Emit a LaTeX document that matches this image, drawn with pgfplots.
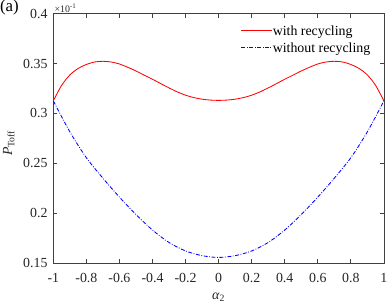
\documentclass[border=0pt]{standalone}
\usepackage{amsmath}
\usepackage{fontspec}
\setmainfont{Liberation Serif}
\usepackage{pgfplots}
\pgfplotsset{compat=1.18}
\newcommand{\dd}{\rule[-0.4pt]{4pt}{0.85pt}\kern1.6pt\rule[-0.4pt]{0.8pt}{0.85pt}\kern1.6pt}
\begin{document}
\fontsize{14}{16}\selectfont
\begin{tikzpicture}
\begin{axis}[
  scale only axis,
  width=333.5pt, height=251.5pt,
  xmin=-1, xmax=1, ymin=0.15, ymax=0.4,
  xtick={-1,-0.8,-0.6,-0.4,-0.2,0,0.2,0.4,0.6,0.8,1},
  xticklabels={-1,-0.8,-0.6,-0.4,-0.2,0,0.2,0.4,0.6,0.8,1},
  ytick={0.15,0.2,0.25,0.3,0.35,0.4},
  yticklabels={0.15,0.2,0.25,0.3,0.35,0.4},
  tick align=inside,
  major tick length=4pt,
  axis line style={black!75, line width=0.8pt},
  every tick/.append style={black!75, line width=0.8pt},
  tick label style={font=\fontsize{14}{16}\selectfont, text=black!85},
  xticklabel style={yshift=-6pt},
  yticklabel style={xshift=-1pt},
  xlabel={\textit{α}\textsubscript{2}},
  ylabel={$\textit{P}_{\text{Toff}}$},
  label style={font=\fontsize{14}{16}\selectfont, text=black!85},
  ylabel style={at={(rel axis cs:-0.135,0.48)}, anchor=center, inner sep=0pt},
  legend style={draw=white, fill=white, at={(rel axis cs:0.9625,0.957)}, anchor=north east,
    font=\fontsize{14}{16}\selectfont, row sep=3.5pt, inner sep=0pt, nodes={inner sep=1pt}},
  legend cell align=left,
  clip=false,
]
\addplot[color=red, line width=0.85pt, smooth,
  legend image code/.code={\node[inner sep=0pt, anchor=west] at (0pt,0pt) {\textcolor{red}{\rule[-0.4pt]{31pt}{0.85pt}}};}] coordinates {
(-1,0.3125) (-0.95,0.328) (-0.9,0.3385) (-0.85,0.345) (-0.8,0.349) (-0.75,0.3515)
(-0.7,0.3522) (-0.65,0.3515) (-0.6,0.3495) (-0.55,0.3462) (-0.5,0.3425) (-0.45,0.3383)
(-0.4,0.3342) (-0.35,0.3298) (-0.3,0.3255) (-0.25,0.3215) (-0.2,0.3182) (-0.15,0.3158)
(-0.1,0.3142) (-0.05,0.3133) (0,0.3130)
(0.05,0.3133) (0.1,0.3142) (0.15,0.3158) (0.2,0.3182) (0.25,0.3215) (0.3,0.3255)
(0.35,0.3298) (0.4,0.3342) (0.45,0.3383) (0.5,0.3425) (0.55,0.3462) (0.6,0.3495)
(0.65,0.3515) (0.7,0.3522) (0.75,0.3515) (0.8,0.349) (0.85,0.345) (0.9,0.3385)
(0.95,0.328) (1,0.3125)
};
\addlegendentry{with recycling}
\addplot[color=blue, line width=0.85pt, smooth, dash pattern=on 4pt off 1.6pt on 0.8pt off 1.6pt,
  legend image code/.code={\node[inner sep=0pt, anchor=west] at (0pt,0pt) {\textcolor{blue}{\dd\dd\dd\rule[-0.4pt]{4pt}{0.85pt}\kern1.6pt\rule[-0.4pt]{0.8pt}{0.85pt}}};}] coordinates {
(-1,0.3125) (-0.9,0.2815) (-0.8,0.2555) (-0.7,0.2350) (-0.6,0.2160) (-0.5,0.1985)
(-0.4,0.1830) (-0.3,0.1705) (-0.2,0.1620) (-0.1,0.1573) (0,0.1555)
(0.1,0.1573) (0.2,0.1620) (0.3,0.1705) (0.4,0.1830) (0.5,0.1985) (0.6,0.2160)
(0.7,0.2350) (0.8,0.2555) (0.9,0.2815) (1,0.3125)
};
\addlegendentry{without recycling}
\node[anchor=south west, font=\fontsize{10}{12}\selectfont, text=black!85, inner sep=1pt] at (rel axis cs:0,1) {×10\textsuperscript{-1}};
\node[font=\fontsize{17}{19}\selectfont, inner sep=0pt] at (rel axis cs:-0.133,1.024) {(a)};
\end{axis}
\end{tikzpicture}
\end{document}
